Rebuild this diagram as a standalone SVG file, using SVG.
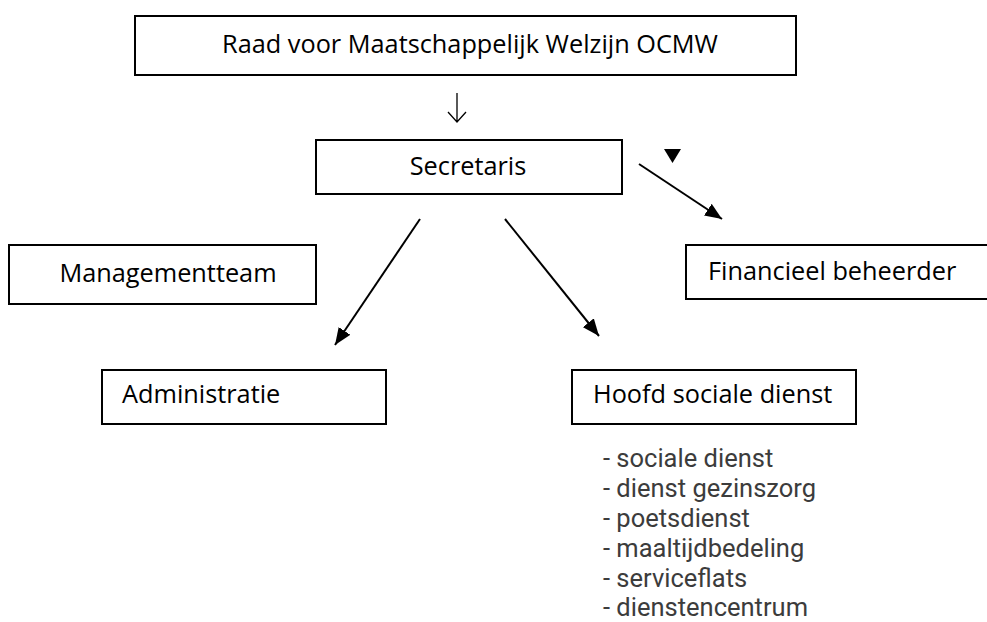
<svg xmlns="http://www.w3.org/2000/svg" width="987" height="622" viewBox="0 0 987 622">
<style>
.box{fill:#fff;stroke:#000;stroke-width:2}
.t{font-family:"Open Sans","DejaVu Sans",sans-serif;font-size:25.3px;fill:#000}
.l{font-family:Roboto,"Liberation Sans",sans-serif;font-size:25.5px;fill:#3c3c3c}
.c{stroke:#000;stroke-width:2;fill:none}
</style>
<defs>
<marker id="ah2" viewBox="0 0 17 14" refX="17" refY="7" markerWidth="17" markerHeight="14" markerUnits="userSpaceOnUse" orient="auto">
<path d="M0,0 L17,7 L0,14 z" fill="#000"/>
</marker>
</defs>
<rect width="987" height="622" fill="#fff"/>
<g id="raad"><rect class="box" x="135" y="16" width="661" height="59"/><text class="t" x="470" y="53" text-anchor="middle">Raad voor Maatschappelijk Welzijn OCMW</text></g>
<g id="secretaris"><rect class="box" x="316" y="140" width="306" height="54"/><text class="t" x="468" y="175" text-anchor="middle">Secretaris</text></g>
<g id="managementteam"><rect class="box" x="9" y="245" width="307" height="59"/><text class="t" x="168" y="282" text-anchor="middle">Managementteam</text></g>
<g id="financieel"><rect class="box" x="686" y="245" width="320" height="54"/><text class="t" x="708" y="280">Financieel beheerder</text></g>
<g id="administratie"><rect class="box" x="102" y="370" width="284" height="54"/><text class="t" x="122" y="403">Administratie</text></g>
<g id="hoofd"><rect class="box" x="572" y="370" width="284" height="54"/><text class="t" x="593" y="403">Hoofd sociale dienst</text>
<text class="l" x="603" y="467">- sociale dienst</text>
<text class="l" x="603" y="497">- dienst gezinszorg</text>
<text class="l" x="603" y="527">- poetsdienst</text>
<text class="l" x="603" y="557">- maaltijdbedeling</text>
<text class="l" x="603" y="587">- serviceflats</text>
<text class="l" x="603" y="616">- dienstencentrum</text>
</g>
<g id="connectors">
<path d="M457,93 V122 M448,112 L457,122 L466,112" stroke="#000" stroke-width="1.3" fill="none"/>
<path d="M664,149 H681 L672.5,163 z" fill="#000"/>
<line class="c" x1="639" y1="164" x2="722" y2="219" marker-end="url(#ah2)"/>
<line class="c" x1="420" y1="219" x2="335" y2="345" marker-end="url(#ah2)"/>
<line class="c" x1="505" y1="219" x2="599" y2="336" marker-end="url(#ah2)"/>
</g>
</svg>
